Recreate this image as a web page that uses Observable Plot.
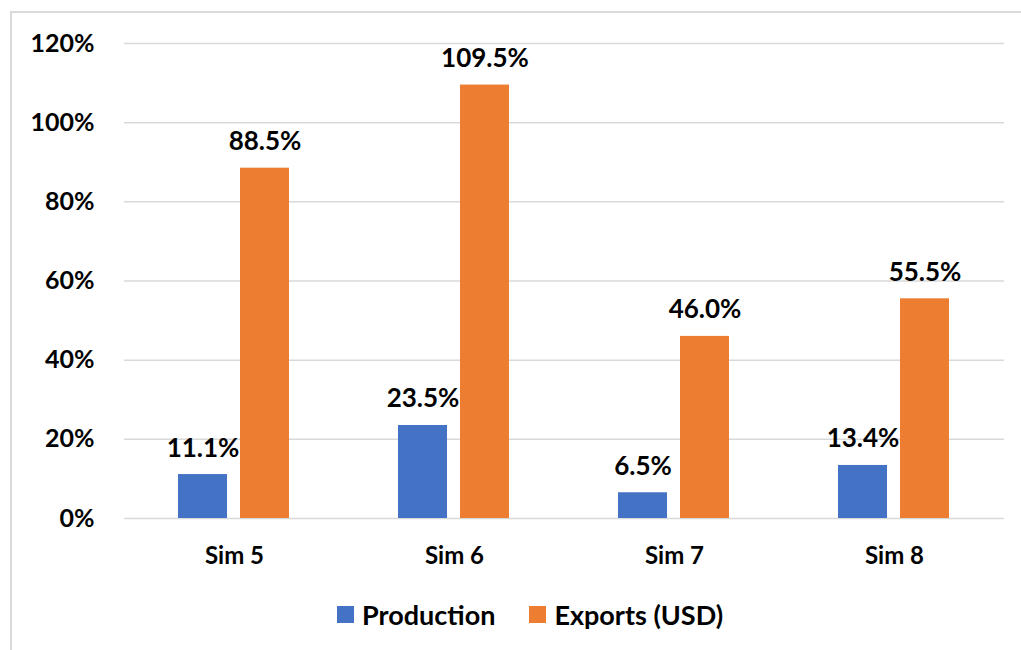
<!DOCTYPE html>
<html>
<head>
<meta charset="utf-8">
<script src="https://cdn.jsdelivr.net/npm/d3@7"></script>
<script src="https://cdn.jsdelivr.net/npm/@observablehq/plot@0.6"></script>
<style>
  html, body { margin: 0; padding: 0; background: #fff; }
  body { width: 1021px; height: 650px; position: relative; overflow: hidden; font-family: Lato, "Open Sans", sans-serif; }
  #frame { position: absolute; left: 10px; top: 11px; width: 1040px; height: 700px; border-left: 2px solid #d9d9d9; border-top: 2px solid #d9d9d9; }
  #chart { position: absolute; left: 0; top: 0; }
  #legend { position: absolute; left: 337px; top: 598px; display: flex; align-items: center; font-weight: bold; font-size: 27px; color: #000; }
  .item { display: flex; align-items: center; }
  .sw { width: 17px; height: 17px; margin-right: 8px; }
</style>
</head>
<body>
<div id="frame"></div>
<div id="chart"></div>
<div id="legend"></div>
<script>
const sims = ["Sim 5", "Sim 6", "Sim 7", "Sim 8"];
const series = ["Production", "Exports (USD)"];
const production = [11.1, 23.5, 6.5, 13.4];
const exportsUSD = [88.5, 109.5, 46.0, 55.5];
const yTicks = [0, 20, 40, 60, 80, 100, 120];
const colors = ["#4472C4", "#ED7D31"];

const data = [];
sims.forEach((s, i) => {
  data.push({sim: s, series: series[0], value: production[i]});
  data.push({sim: s, series: series[1], value: exportsUSD[i]});
});

const chart = Plot.plot({
  width: 1021,
  height: 590,
  marginLeft: 122,
  marginRight: 16,
  marginTop: 43,
  marginBottom: 72,
  style: {fontFamily: "Lato, 'Open Sans', sans-serif", color: "#000", background: "transparent"},
  fx: {domain: sims, padding: 0, label: null},
  x: {domain: series, paddingInner: 0.206, paddingOuter: 0.855, axis: null},
  y: {domain: [0, 120], axis: null},
  color: {domain: series, range: colors},
  marks: [
    Plot.ruleY(yTicks, {stroke: "#d9d9d9", strokeWidth: 1.5}),
    Plot.barY(data, {fx: "sim", x: "series", y: "value", fill: "series"}),
    Plot.text(data, {fx: "sim", x: "series", y: "value", text: d => d.value.toFixed(1) + "%",
      dy: -18, lineAnchor: "bottom", fontSize: 26, fontWeight: "bold", fill: "#000"}),
    Plot.axisY({anchor: "left", ticks: yTicks, tickSize: 0, tickPadding: 30, tickFormat: d => d + "%",
      fontSize: 25, fontWeight: "bold", fill: "#000", label: null}),
    Plot.axisFx({anchor: "bottom", tickSize: 0, tickPadding: 28, fontSize: 24, fontWeight: "bold", fill: "#000", label: null})
  ]
});
document.getElementById("chart").appendChild(chart);

const legend = document.getElementById("legend");
series.forEach((s, i) => {
  const it = document.createElement("div");
  it.className = "item";
  if (i > 0) it.style.marginLeft = "34px";
  const sw = document.createElement("div");
  sw.className = "sw";
  sw.style.background = colors[i];
  const t = document.createElement("span");
  t.textContent = s;
  it.appendChild(sw);
  it.appendChild(t);
  legend.appendChild(it);
});
</script>
</body>
</html>
